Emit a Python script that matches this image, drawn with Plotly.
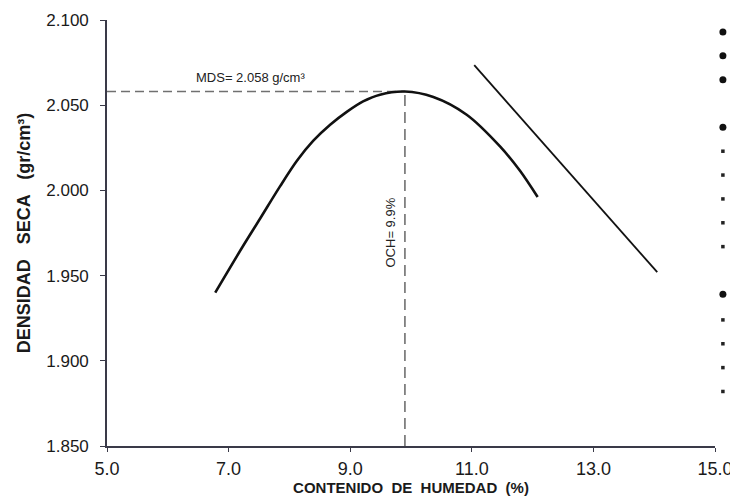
import plotly.graph_objects as go

# Compaction curve (moisture %, dry density g/cm3)
curve_x = [6.780, 7.240, 7.519, 7.848, 8.127, 8.390, 8.670, 8.949, 9.212, 9.491, 9.900,
           10.367, 10.916, 11.464, 11.793, 12.083]
curve_y = [1.9400, 1.9675, 1.9835, 2.0025, 2.0175, 2.0290, 2.0385, 2.0462, 2.0522, 2.0562, 2.0580,
           2.0548, 2.0444, 2.0258, 2.0115, 1.9961]

# Saturation (zero air voids) line
sat_x = [11.04, 14.05]
sat_y = [2.0735, 1.952]

# Optimum values
mds = 2.058
och = 9.9

# Bullet marks at right edge (cut-off list)
big_dot_y = [2.093, 2.079, 2.065, 2.037, 1.939]
small_dot_y = [2.023, 2.009, 1.995, 1.981, 1.967, 1.924, 1.910, 1.896, 1.882]
dot_x = 15.13

x_ticks = [5.0, 7.0, 9.0, 11.0, 13.0, 15.0]
y_ticks = [1.850, 1.900, 1.950, 2.000, 2.050, 2.100]

FONT = "Arial, Liberation Sans, sans-serif"
AXC = "#3a3a48"

W, H = 730, 496
ML, MR, MT, MB = 107, 5, 20, 50
plot_w = W - ML - MR
main_w = 608
x_end = 5.0 + 10.0 * plot_w / main_w

fig = go.Figure()

# dashed reference lines
fig.add_trace(go.Scatter(x=[5.0, och], y=[mds, mds], mode="lines",
                         line=dict(color="#707070", width=1.6, dash="9px,5px"),
                         hoverinfo="skip", showlegend=False))
fig.add_trace(go.Scatter(x=[och, och], y=[1.850, mds], mode="lines",
                         line=dict(color="#707070", width=1.6, dash="11px,6px"),
                         hoverinfo="skip", showlegend=False))

fig.add_trace(go.Scatter(x=curve_x, y=curve_y, mode="lines",
                         line=dict(color="#111111", width=2.6, shape="spline", smoothing=0.9),
                         showlegend=False))
fig.add_trace(go.Scatter(x=sat_x, y=sat_y, mode="lines",
                         line=dict(color="#111111", width=1.8),
                         showlegend=False))

fig.add_trace(go.Scatter(x=[dot_x] * len(big_dot_y), y=big_dot_y, mode="markers",
                         xaxis="x2", yaxis="y",
                         marker=dict(color="#111111", size=7), cliponaxis=False,
                         showlegend=False))
fig.add_trace(go.Scatter(x=[dot_x] * len(small_dot_y), y=small_dot_y, mode="markers",
                         xaxis="x2", yaxis="y",
                         marker=dict(color="#222222", size=3.5, symbol="square"), cliponaxis=False,
                         showlegend=False))

fig.add_annotation(x=7.355, y=2.0663, text="MDS= 2.058 g/cm³", showarrow=False,
                   font=dict(family=FONT, size=13, color="#222222"))
fig.add_annotation(x=9.655, y=1.9753, text="OCH= 9.9%", showarrow=False, textangle=-90,
                   font=dict(family=FONT, size=13, color="#222222"))

fig.update_layout(
    width=W, height=H,
    margin=dict(l=ML, r=MR, t=MT, b=MB),
    paper_bgcolor="white", plot_bgcolor="rgba(0,0,0,0)",
    font=dict(family=FONT, size=14, color="#1a1a1a"),
    xaxis=dict(domain=[0, main_w / plot_w], range=[5.0, 15.0], tickvals=x_ticks, tickformat=".1f",
               showgrid=False, zeroline=False, showline=True, linecolor=AXC, linewidth=1.6,
               ticks="outside", ticklen=4, tickcolor=AXC, automargin=False,
               ticklabeloverflow="allow", ticklabelstandoff=2,
               tickfont=dict(family=FONT, size=18),
               title=dict(text="<b>CONTENIDO  DE  HUMEDAD  (%)</b>", standoff=4,
                          font=dict(family=FONT, size=15))),
    xaxis2=dict(domain=[0, 1], range=[5.0, x_end], visible=False, anchor="y",
                showgrid=False, zeroline=False),
    yaxis=dict(range=[1.850, 2.100], tickvals=y_ticks, tickformat=".3f",
               showgrid=False, zeroline=False, showline=True, linecolor=AXC, linewidth=1.6,
               ticks="outside", ticklen=5, tickcolor=AXC, automargin=False,
               ticklabelstandoff=8,
               tickfont=dict(family=FONT, size=17),
               title=dict(text="<b>DENSIDAD   SECA   (gr/cm³)</b>", standoff=11,
                          font=dict(family=FONT, size=18))),
)

fig.write_html("out.html", config={"displayModeBar": False},
               post_script="document.body.style.margin='0px';document.body.style.overflow='hidden';")
